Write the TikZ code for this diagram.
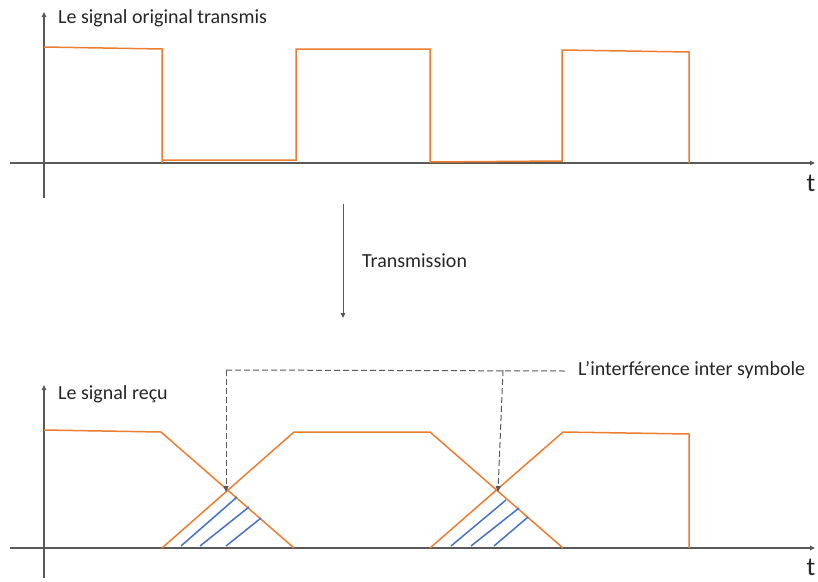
\documentclass[tikz,border=0pt]{standalone}
\usepackage{fontspec}
\setmainfont{Carlito}
\usetikzlibrary{arrows.meta}
\definecolor{sigorange}{HTML}{ED7D31}
\definecolor{hatchblue}{HTML}{4472C4}
\definecolor{axisgray}{HTML}{595959}
\begin{document}
\begin{tikzpicture}[x=1pt,y=-1pt,
  axis/.style={draw=axisgray,line width=1.3pt,-{Triangle[length=5pt,width=4.5pt]}},
  signal/.style={draw=sigorange,line width=1.5pt,line join=miter},
  hatchline/.style={draw=hatchblue,line width=1.5pt},
  lbl/.style={anchor=west,inner sep=0pt,font=\fontsize{20}{22}\selectfont,text=black!85},
  tlbl/.style={inner sep=0pt,font=\fontsize{26}{28}\selectfont,text=black!85},
  isi/.style={draw=axisgray,line width=1pt,dash pattern=on 6pt off 3pt},
  isiarrow/.style={isi,-{Triangle[length=6pt,width=5pt]}}]
\useasboundingbox (0,0) rectangle (818,581);
% top axes
\coordinate (tx0) at (10,163); \coordinate (tx1) at (815,163);
\coordinate (ty0) at (44,198); \coordinate (ty1) at (44,12);
\draw[axis] (tx0) -- (tx1);
\draw[axis] (ty0) -- (ty1);
\node[lbl] (ttitle) at (58,18) {Le signal original transmis};
\node[tlbl] (tt) at (811,183) {t};
% top signal
\draw[signal] (44,47) -- (162,49) -- (162,163) -- (162,160) -- (296,160) -- (296,49) -- (430,49) -- (430,162) -- (562,161) -- (562,50) -- (689,52) -- (689,163);
% transmission arrow
\coordinate (tra) at (343,204); \coordinate (trb) at (343,318);
\draw[axis,line width=1pt] (tra) -- (trb);
\node[lbl] (trans) at (362,261) {Transmission};
% bottom axes
\coordinate (bx0) at (10,548); \coordinate (bx1) at (815,548);
\coordinate (by0) at (44,578); \coordinate (by1) at (44,385);
\draw[axis] (bx0) -- (bx1);
\draw[axis] (by0) -- (by1);
\node[lbl] (btitle) at (58,394) {Le signal reçu};
\node[tlbl] (bt) at (811,567) {t};
% bottom signal
\draw[signal] (44,430) -- (161,432) -- (294,548);
\draw[signal] (162,548) -- (294,432) -- (430,432) -- (563,548);
\draw[signal] (430,548) -- (563,432) -- (689,434) -- (689,548);
% hatching
\draw[hatchline] (181,546) -- (237,497);
\draw[hatchline] (200,546) -- (249,507);
\draw[hatchline] (226,546) -- (261,518);
\draw[hatchline] (451,546) -- (506,500);
\draw[hatchline] (471,546) -- (519,508);
\draw[hatchline] (494,546) -- (528,517);
% ISI labels
\node[lbl] (isi) at (578,370) {L’interférence inter symbole};
\coordinate (c1) at (226,370);
\coordinate (c2) at (503,370);
\coordinate (c3) at (565,371);
\coordinate (x1) at (226,492);
\coordinate (x2) at (498,492);
\draw[isi] (c3) -- (c1);
\draw[isiarrow] (c1) -- (x1);
\draw[isiarrow] (c2) -- (x2);
\end{tikzpicture}
\end{document}
